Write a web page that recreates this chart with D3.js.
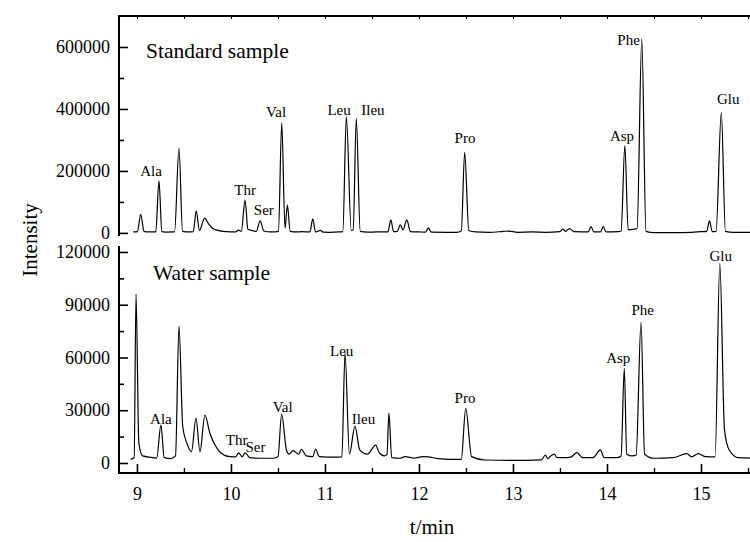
<!DOCTYPE html>
<html><head><meta charset="utf-8">
<script src="https://cdn.jsdelivr.net/npm/d3@7"></script>
<style>
body{margin:0;background:#fff;}
svg text{font-family:"Liberation Serif","Times New Roman",serif !important;fill:#000;}
</style></head>
<body><svg id="c" width="750" height="542"></svg>
<script>
// ---- data ----
const xTicks = [9, 10, 11, 12, 13, 14, 15];
const xMinorTicks = [9.5, 10.5, 11.5, 12.5, 13.5, 14.5, 15.5];
const topTicks = [0, 200000, 400000, 600000];
const topMinorTicks = [100000, 300000, 500000];
const botTicks = [0, 30000, 60000, 90000, 120000];
const botMinorTicks = [15000, 45000, 75000, 105000];

const standardTrace = [
 [8.96,3000],[9.005,4000],[9.04,60000],[9.075,5000],[9.12,3000],[9.20,3000],[9.234,168000],[9.265,4000],
 [9.30,2500],[9.40,3000],[9.447,274000],[9.485,5000],[9.55,3000],[9.60,4000],[9.63,71000],[9.665,8000],
 [9.72,48000],[9.76,30000],[9.80,16000],[9.85,9000],[9.95,4000],[10.05,3000],[10.08,9000],[10.11,5000],
 [10.15,106000],[10.18,12000],[10.22,8000],[10.27,5000],[10.31,39000],[10.35,6000],[10.42,3000],[10.47,3500],
 [10.505,5000],[10.54,355000],[10.575,15000],[10.60,90000],[10.63,5000],[10.70,3000],[10.75,4000],[10.84,3000],
 [10.87,45000],[10.90,3000],[10.95,8000],[10.98,2500],[11.05,2000],[11.15,3000],[11.19,4000],[11.227,375000],
 [11.28,8000],[11.30,10000],[11.333,370000],[11.375,5000],[11.45,2500],[11.55,3000],[11.67,3000],[11.70,42000],
 [11.73,4000],[11.77,5000],[11.80,26000],[11.83,10000],[11.87,42000],[11.91,4000],[12.0,3000],[12.07,2500],
 [12.1,16000],[12.13,2500],[12.3,2000],[12.40,2000],[12.45,6000],[12.486,260000],[12.53,8000],[12.6,3000],
 [12.75,2000],[12.9,5000],[12.95,6000],[13.05,2000],[13.2,3000],[13.35,2000],[13.5,4000],[13.53,12000],
 [13.56,5000],[13.6,14000],[13.65,4000],[13.8,3000],[13.83,20000],[13.86,3000],[13.93,3000],[13.96,20000],
 [13.99,3000],[14.12,4000],[14.15,6000],[14.19,282000],[14.225,10000],[14.29,12000],[14.32,14000],[14.37,626000],
 [14.415,5000],[14.5,1000],[14.7,1000],[14.9,2000],[15.0,4000],[15.06,5000],[15.09,39000],[15.12,4000],
 [15.16,5000],[15.216,389000],[15.26,5000],[15.35,2000],[15.6,2000]
];

const waterTrace = [
 [8.93,2100],[8.97,3000],[8.99,96100],[9.02,11400],[9.06,4000],[9.15,3200],[9.21,2800],[9.255,21600],
 [9.29,3000],[9.36,2500],[9.41,4000],[9.447,77900],[9.487,20600],[9.53,11400],[9.58,6400],[9.628,25400],
 [9.67,6400],[9.723,27300],[9.776,16900],[9.83,10200],[9.88,6400],[9.99,3600],[10.05,3500],[10.08,5800],
 [10.12,3500],[10.15,5800],[10.2,3000],[10.3,2700],[10.45,2700],[10.50,3500],[10.539,27700],[10.59,7400],
 [10.62,5000],[10.66,7000],[10.72,5000],[10.75,7800],[10.80,4000],[10.87,3600],[10.90,7800],[10.94,3600],
 [11.1,3300],[11.18,3500],[11.213,62400],[11.26,5000],[11.319,21000],[11.37,7400],[11.45,5000],[11.54,10200],
 [11.575,6000],[11.63,4000],[11.66,5000],[11.68,28300],[11.71,3000],[11.8,2700],[11.85,3600],[11.95,2700],
 [12.04,3600],[12.1,3500],[12.2,2500],[12.45,2000],[12.497,31100],[12.56,3600],[12.7,1700],[13.0,1500],
 [13.3,1800],[13.345,4500],[13.37,2500],[13.40,4000],[13.44,5000],[13.47,3000],[13.55,3000],[13.62,3500],
 [13.68,5900],[13.74,3000],[13.85,3000],[13.93,7400],[13.97,3000],[14.1,3000],[14.15,4000],[14.184,53800],
 [14.21,5000],[14.27,4000],[14.31,4500],[14.362,80000],[14.40,5000],[14.5,2700],[14.7,3000],[14.85,5300],
 [14.9,3500],[14.97,5300],[15.05,3600],[15.15,3500],[15.2,113600],[15.25,18800],[15.30,7400],[15.40,3000],
 [15.6,2700]
];

// labels: name, time of label centre, intensity of label baseline
const standardLabels = [
 ["Ala",9.15,185000],["Thr",10.15,122000],["Ser",10.35,58000],["Val",10.48,373000],
 ["Leu",11.15,380000],["Ileu",11.51,380000],["Pro",12.49,290000],["Asp",14.16,298000],
 ["Phe",14.23,605000],["Glu",15.29,415000]
];
const waterLabels = [
 ["Ala",9.255,22000],["Thr",10.06,10000],["Ser",10.26,6000],["Val",10.55,29000],
 ["Leu",11.178,61000],["Ileu",11.41,22000],["Pro",12.49,34000],["Asp",14.12,57000],
 ["Phe",14.38,84000],["Glu",15.209,115000]
];

// ---- scales ----
const svg = d3.select("#c");
const x = d3.scaleLinear().domain([8.81, 15.6]).range([119.1, 757.4]);
const yTop = d3.scaleLinear().domain([-10000, 700000]).range([236, 16]);
const yBot = d3.scaleLinear().domain([-5700, 123400]).range([473, 246]);

svg.append("defs").append("clipPath").attr("id","clip")
  .append("rect").attr("x",120).attr("y",0).attr("width",640).attr("height",542);

const line = (ys) => d3.line().x(d => x(d[0])).y(d => ys(d[1])).curve(d3.curveMonotoneX);

const g = svg.append("g").attr("clip-path","url(#clip)");
g.append("path").datum(standardTrace).attr("d", line(yTop))
  .attr("fill","none").attr("stroke","#000").attr("stroke-width",1.2);
g.append("path").datum(waterTrace).attr("d", line(yBot))
  .attr("fill","none").attr("stroke","#000").attr("stroke-width",1.2);

const serif = '"Liberation Serif","Times New Roman",serif';

// ---- axes ----
function yAxis(scale, ticks, minor, yRange) {
  const ax = svg.append("g").attr("transform","translate(119,0)");
  ax.append("g").call(d3.axisLeft(scale).tickValues(ticks).tickSize(-9).tickPadding(9).tickFormat(d3.format("d")))
    .attr("font-family", serif).attr("font-size", 18)
    .call(s => { s.select(".domain").remove(); s.selectAll("line").attr("stroke-width",1.6); });
  ax.append("g").call(d3.axisLeft(scale).tickValues(minor).tickSize(-5).tickFormat(""))
    .call(s => { s.select(".domain").remove(); s.selectAll("line").attr("stroke-width",1.6); });
  ax.append("line").attr("x1",0).attr("x2",0).attr("y1",yRange[0]).attr("y2",yRange[1])
    .attr("stroke","#000").attr("stroke-width",2);
}
yAxis(yTop, topTicks, topMinorTicks, [15, 236]);
yAxis(yBot, botTicks, botMinorTicks, [246, 474]);

// bottom x axis
const xa = svg.append("g").attr("transform","translate(0,473)");
xa.append("g").call(d3.axisBottom(x).tickValues(xTicks).tickSize(-9).tickPadding(14).tickFormat(d3.format("d")))
  .attr("font-family", serif).attr("font-size", 18)
  .call(s => { s.select(".domain").remove(); s.selectAll("line").attr("stroke-width",1.6); });
xa.append("g").call(d3.axisBottom(x).tickValues(xMinorTicks).tickSize(-5).tickFormat(""))
  .call(s => { s.select(".domain").remove(); s.selectAll("line").attr("stroke-width",1.4); });
xa.append("line").attr("x1",118).attr("x2",750).attr("y1",0).attr("y2",0)
  .attr("stroke","#000").attr("stroke-width",2);

// top border
const ta = svg.append("g").attr("transform","translate(0,16)");
ta.append("g").call(d3.axisTop(x).tickValues(xTicks.concat(xMinorTicks)).tickSize(-3).tickFormat(""))
  .call(s => { s.select(".domain").remove(); s.selectAll("line").attr("stroke-width",1); });
ta.append("line").attr("x1",118).attr("x2",750).attr("y1",0).attr("y2",0)
  .attr("stroke","#000").attr("stroke-width",2);

// ---- texts ----
svg.append("text").attr("x",146).attr("y",58).style("font-size","21.5px").text("Standard sample");
svg.append("text").attr("x",153).attr("y",280).style("font-size","21.5px").text("Water sample");
svg.append("text").attr("transform","translate(37,240) rotate(-90)").attr("text-anchor","middle")
  .style("font-size","21px").text("Intensity");
svg.append("text").attr("x",432).attr("y",534).attr("text-anchor","middle")
  .style("font-size","21px").text("t/min");

svg.append("g").selectAll("text").data(standardLabels).join("text")
  .attr("x", d => x(d[1])).attr("y", d => yTop(d[2])).attr("text-anchor","middle")
  .style("font-size","15px").text(d => d[0]);
svg.append("g").selectAll("text").data(waterLabels).join("text")
  .attr("x", d => x(d[1])).attr("y", d => yBot(d[2])).attr("text-anchor","middle")
  .style("font-size","15px").text(d => d[0]);
</script></body></html>
